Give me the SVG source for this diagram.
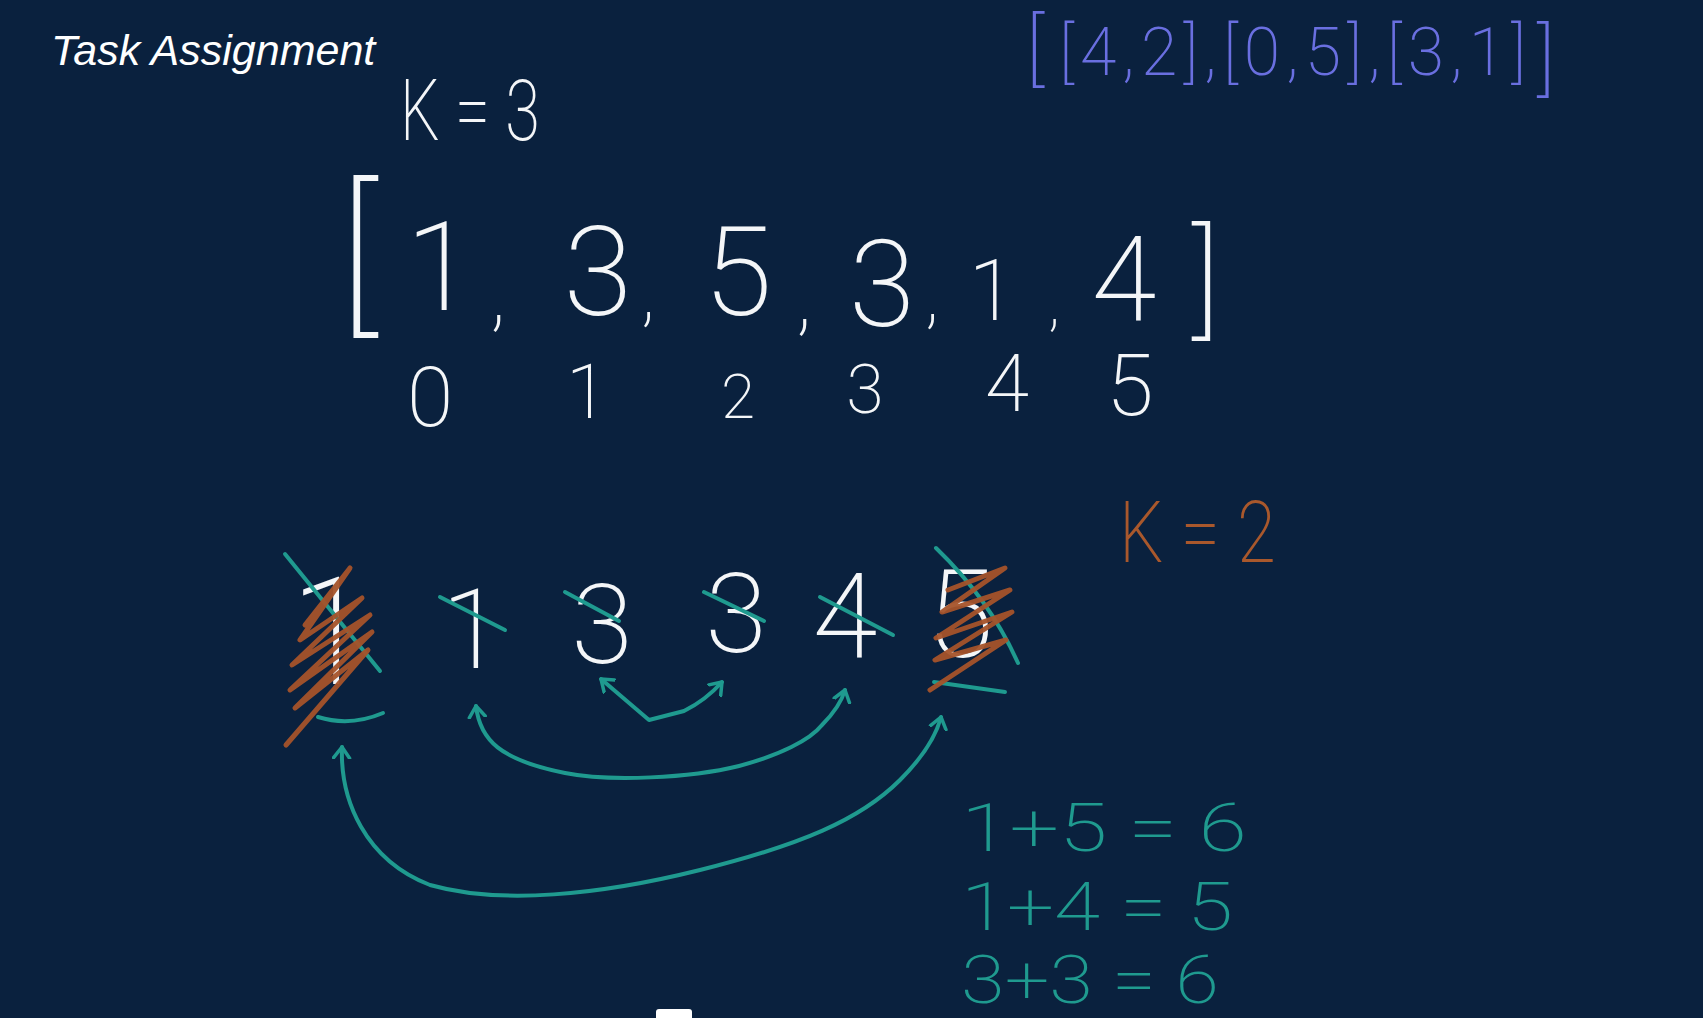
<svg xmlns="http://www.w3.org/2000/svg" width="1703" height="1018" viewBox="0 0 1703 1018">
<defs>
<style>
.hw{font-family:Roboto,"Open Sans","Liberation Sans",sans-serif;font-weight:200;}
.w{fill:#f4f6f8;}
.bl{fill:#6a6fe0;}
.or{fill:#a9582c;}
.tl{fill:#1f9a8f;}
.mid{text-anchor:middle;}
.strike{stroke:#1f9a8f;stroke-width:4;fill:none;stroke-linecap:round;stroke-linejoin:round;}
.scrib{stroke:#a5532a;stroke-width:5;fill:none;stroke-linecap:round;stroke-linejoin:round;opacity:0.95;}
.arc{stroke:#1f9a8f;stroke-width:4;fill:none;stroke-linecap:round;stroke-linejoin:round;}
</style>
<marker id="ah" viewBox="-12 -10 14 20" markerWidth="14" markerHeight="20" refX="0" refY="0" orient="auto-start-reverse" markerUnits="userSpaceOnUse">
<path d="M-11,-8 L0,0 L-11,8" fill="none" stroke="#1f9a8f" stroke-width="3.5" stroke-linecap="round" stroke-linejoin="round"/>
</marker>
</defs>
<rect width="1703" height="1018" fill="#0a213e"/>

<g id="title">
<text x="51" y="65" font-family="'Liberation Sans',Arial,sans-serif" font-style="italic" font-size="43" fill="#ffffff">Task Assignment</text>
</g>

<g id="k3">
<text class="hw w" x="400" y="140" font-size="86" textLength="140" lengthAdjust="spacingAndGlyphs">K = 3</text>
</g>

<g id="pairs">
<text class="hw bl mid" x="1035" y="76" font-size="80">[</text>
<text class="hw bl" x="1059" y="75" font-size="66" textLength="467" lengthAdjust="spacing">[4,2],[0,5],[3,1]</text>
<text class="hw bl mid" x="1546" y="86" font-size="80">]</text>
</g>

<g id="array">
<text class="hw w mid" x="358" y="312" font-size="168">[</text>
<text class="hw w mid" x="440" y="310" font-size="125">1</text>
<text class="hw w mid" x="498" y="322" font-size="80">,</text>
<text class="hw w mid" x="598" y="315" font-size="125">3</text>
<text class="hw w mid" x="648" y="318" font-size="72">,</text>
<text class="hw w mid" x="738" y="315" font-size="125">5</text>
<text class="hw w mid" x="804" y="326" font-size="80">,</text>
<text class="hw w mid" x="882" y="326" font-size="120">3</text>
<text class="hw w mid" x="932" y="320" font-size="72">,</text>
<text class="hw w mid" x="992" y="320" font-size="85">1</text>
<text class="hw w mid" x="1054" y="324" font-size="62">,</text>
<text class="hw w mid" x="1124" y="320" font-size="118">4</text>
<text class="hw w mid" x="1206" y="322" font-size="125">]</text>
</g>

<g id="indices">
<text class="hw w mid" x="430" y="426" font-size="84">0</text>
<text class="hw w mid" x="587" y="418" font-size="76">1</text>
<text class="hw w mid" x="738" y="418" font-size="62">2</text>
<text class="hw w mid" x="865" y="413" font-size="68">3</text>
<text class="hw w mid" x="1007" y="411" font-size="80">4</text>
<text class="hw w mid" x="1130" y="415" font-size="86">5</text>
</g>

<g id="k2">
<text class="hw or" x="1119" y="562" font-size="86" textLength="157" lengthAdjust="spacingAndGlyphs">K = 2</text>
</g>

<g id="sorted">
<text class="hw w mid" x="331" y="684" font-size="150">1</text>
<text class="hw w mid" x="472" y="668" font-size="112">1</text>
<text class="hw w mid" x="602" y="663" font-size="112">3</text>
<text class="hw w mid" x="736" y="652" font-size="112">3</text>
<text class="hw w mid" x="845" y="657" font-size="118">4</text>
<text class="hw w mid" x="960" y="657" font-size="122">5</text>
</g>

<g id="strikes">
<path class="strike" d="M285,554 L380,671"/>
<path class="strike" d="M318,717 Q350,727 383,713"/>
<path class="strike" d="M440,597 L505,630"/>
<path class="strike" d="M565,592 L619,621"/>
<path class="strike" d="M704,592 L764,621"/>
<path class="strike" d="M820,597 L893,635"/>
<path class="strike" d="M936,548 Q990,600 1018,663"/>
<path class="strike" d="M934,682 L1005,692"/>
</g>

<g id="scribbles">
<path class="scrib" d="M305,625 L350,568 L300,640 L362,598 L292,665 L370,615 L290,690 L372,632 L295,708 L368,650 L286,745"/>
<path class="scrib" d="M948,590 L1005,568 L942,612 L1010,590 L936,638 L1012,612 L935,660 L1006,640 L930,690"/>
</g>

<g id="connectors">
<path class="arc" marker-start="url(#ah)" marker-end="url(#ah)" d="M601,679 L649,720 L684,711 Q706,700 722,682"/>
<path class="arc" marker-start="url(#ah)" marker-end="url(#ah)" d="M476,706 C480,740 500,760 565,773 C610,782 690,778 739,766 C780,755 810,740 822,725 C835,712 842,700 845,690"/>
<path class="arc" marker-start="url(#ah)" marker-end="url(#ah)" d="M342,747 C340,800 365,860 430,885 C500,905 600,895 700,870 C800,845 860,820 900,780 C920,760 935,740 941,717"/>
</g>

<g id="sums">
<text class="hw tl" x="961" y="851" font-size="67" textLength="286" lengthAdjust="spacingAndGlyphs">1+5 = 6</text>
<text class="hw tl" x="961" y="930" font-size="67" textLength="272" lengthAdjust="spacingAndGlyphs">1+4 = 5</text>
<text class="hw tl" x="961" y="1003" font-size="67" textLength="258" lengthAdjust="spacingAndGlyphs">3+3 = 6</text>
</g>

<g id="pager">
<rect x="656" y="1009" width="36" height="14" rx="3" fill="#ffffff"/>
</g>
</svg>
